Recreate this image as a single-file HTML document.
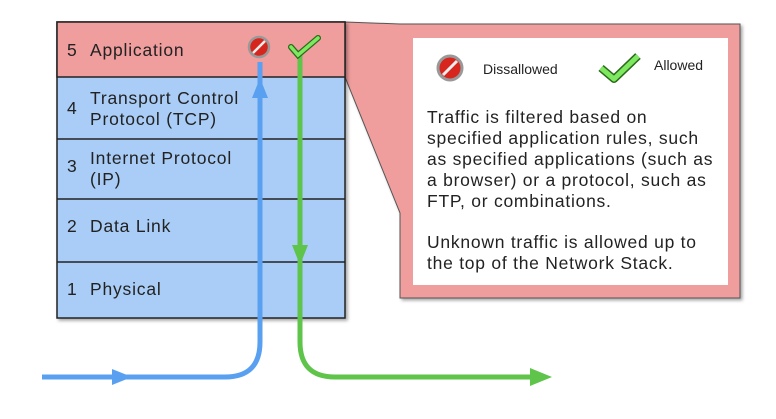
<!DOCTYPE html>
<html><head><style>
body{margin:0;width:776px;height:414px;background:#fff;overflow:hidden;font-family:"Liberation Sans",sans-serif}
</style></head><body>
<svg width="776" height="414" viewBox="0 0 776 414" xmlns="http://www.w3.org/2000/svg" font-family="Liberation Sans, sans-serif">
<defs><filter id="sh"><feDropShadow dx="2" dy="2" stdDeviation="1.5" flood-color="#000" flood-opacity="0.35"/></filter></defs>
<path d="M345,22 L400,24 L740,24 L740,298 L400,298 L400,213 L345,77 Z" fill="#ef9d9d" stroke="#555" stroke-width="1" filter="url(#sh)"/>
<rect x="413" y="38" width="315" height="247" fill="#fff"/>
<g filter="url(#sh)">
<rect x="57" y="22" width="288" height="296" fill="#a9cdf7" stroke="#222" stroke-width="1.5"/>
</g>
<rect x="57" y="22" width="288" height="55" fill="#ef9d9d" stroke="#222" stroke-width="1.5"/>
<g stroke="#222" stroke-width="1.5">
<line x1="57" y1="139" x2="345" y2="139"/><line x1="57" y1="199" x2="345" y2="199"/><line x1="57" y1="262" x2="345" y2="262"/>
</g>
<g font-size="17.5" fill="#222" letter-spacing="0.8">
<text x="67" y="56">5</text><text x="90" y="56">Application</text>
<text x="67" y="114">4</text><text x="90" y="104">Transport Control</text><text x="90" y="125">Protocol (TCP)</text>
<text x="67" y="172">3</text><text x="90" y="164">Internet Protocol</text><text x="90" y="185">(IP)</text>
<text x="67" y="232">2</text><text x="90" y="232">Data Link</text>
<text x="67" y="295">1</text><text x="90" y="295">Physical</text>
</g>
<path d="M42,377 L225,377 Q260,377 260,342 L260,62" fill="none" stroke="#5aa0f0" stroke-width="5"/>
<polygon points="252,98 260,78 268,98" fill="#5aa0f0"/>
<polygon points="112,369 132,377 112,385" fill="#5aa0f0"/>
<path d="M300,52 L300,342 Q300,377 335,377 L530,377" fill="none" stroke="#5ec44a" stroke-width="5"/>
<polygon points="292,245 300,265 308,245" fill="#5ec44a"/>
<polygon points="530,368 552,377 530,386" fill="#5ec44a"/>
<circle cx="259" cy="47" r="10" fill="#d7261e" stroke="#999" stroke-width="2.5"/>
<line x1="253" y1="53" x2="265" y2="41" stroke="#eee" stroke-width="2.5"/>
<path d="M291,47 L298,55 L318,38" fill="none" stroke="#2a6a1a" stroke-width="6" stroke-linecap="round"/>
<path d="M291,47 L298,55 L318,38" fill="none" stroke="#7ee860" stroke-width="3.5" stroke-linecap="round"/>
<circle cx="450" cy="68" r="12" fill="#d7261e" stroke="#999" stroke-width="3"/>
<line x1="443" y1="75" x2="457" y2="61" stroke="#eee" stroke-width="3"/>
<text x="483" y="74" font-size="14" fill="#222">Dissallowed</text>
<path d="M601,68 L614,79 L638,56" fill="none" stroke="#2a6a1a" stroke-width="8" stroke-linejoin="round"/>
<path d="M601,68 L614,79 L638,56" fill="none" stroke="#7ee860" stroke-width="5" stroke-linejoin="round"/>
<text x="654" y="70" font-size="14" fill="#222">Allowed</text>
<g font-size="17.5" fill="#222" letter-spacing="0.75">
<text x="427" y="123">Traffic is filtered based on</text>
<text x="427" y="144">specified application rules, such</text>
<text x="427" y="165">as specified applications (such as</text>
<text x="427" y="186">a browser) or a protocol, such as</text>
<text x="427" y="207">FTP, or combinations.</text>
<text x="427" y="248">Unknown traffic is allowed up to</text>
<text x="427" y="269">the top of the Network Stack.</text>
</g>
</svg>
</body></html>
